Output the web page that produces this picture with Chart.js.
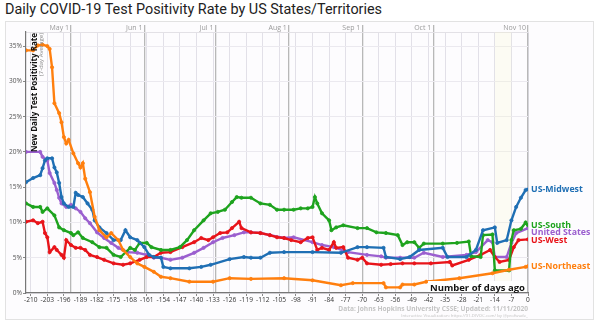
<!DOCTYPE html>
<html>
<head>
<meta charset="utf-8">
<script src="https://cdn.jsdelivr.net/npm/chart.js@4.4.0/dist/chart.umd.min.js"></script>
<style>
  html, body { margin: 0; padding: 0; background: #fff; }
  #title { position: absolute; left: 5px; top: 1px; font: 14.4px Roboto, sans-serif; color: #222; white-space: nowrap; }
  #frame { position: absolute; left: 5px; top: 21px; width: 587px; height: 297px; border: 1px solid #e2e2e2; background: #fdfcfe; }
  #wrap { position: absolute; left: 0; top: 0; width: 600px; height: 322px; }
</style>
</head>
<body>
<div id="title">Daily COVID-19 Test Positivity Rate by US States/Territories</div>
<div id="frame"></div>
<div id="wrap"><canvas id="chart" width="600" height="322"></canvas></div>
<script>
// days ago -> 7-day avg positivity (%)
const northeast = [[-212, 34.4], [-209, 34.4], [-207, 35.1], [-205, 35.2], [-203, 35.0], [-202, 34.6], [-201, 32.0],
  [-200, 26.9], [-198, 25.5], [-197, 24.2], [-196, 22.1], [-195, 21.2], [-194, 21.7], [-192, 19.8], [-190, 18.4],
  [-189, 17.8], [-188, 18.4], [-187, 16.2], [-185, 14.3], [-183, 10.8], [-181, 8.9], [-178, 7.9], [-176, 8.5],
  [-173, 7.5], [-171, 6.1], [-168, 5.1], [-165, 4.2], [-162, 3.7], [-158, 3.0], [-155, 2.3], [-151, 2.1],
  [-143, 1.6], [-133, 1.6], [-126, 2.1], [-117, 2.0], [-103, 2.1], [-91, 1.8], [-79, 1.1], [-74, 1.4],
  [-61, 1.4], [-60, 0.8], [-54, 0.8], [-53, 1.2], [-48, 1.2], [-43, 1.6], [-29, 2.1], [-15, 2.8], [-8, 3.3],
  [-1, 3.7], [0, 3.8]];
const midwest = [[-212, 15.7], [-209, 16.3], [-206, 16.7], [-205, 17.7], [-204, 18.8], [-203, 19.1], [-201, 19.1],
  [-200, 17.8], [-199, 17.1], [-198, 15.6], [-197, 13.6], [-196, 12.7], [-194, 12.2], [-192, 12.2], [-191, 14.2],
  [-190, 13.9], [-188, 13.6], [-186, 12.7], [-184, 11.8], [-183, 10.3], [-181, 9.3], [-178, 8.5], [-175, 7.5],
  [-172, 7.5], [-170, 8.9], [-168, 7.9], [-165, 7.5], [-162, 6.5], [-160, 5.4], [-158, 5.1], [-155, 5.0],
  [-154, 3.7], [-151, 3.5], [-143, 3.5], [-138, 3.7], [-134, 4.0], [-126, 4.8], [-120, 5.1], [-117, 5.0],
  [-113, 5.0], [-109, 5.7], [-103, 5.8], [-91, 5.8], [-79, 5.7], [-72, 6.5], [-68, 6.5], [-61, 6.4], [-60, 5.1],
  [-54, 4.8], [-50, 5.1], [-46, 6.1], [-36, 6.4], [-34, 5.1], [-26, 5.1], [-22, 6.1], [-19, 8.9], [-14, 9.3],
  [-13, 7.1], [-9, 7.5], [-7, 10.3], [-5, 12.2], [-3, 13.5], [-1, 14.6], [0, 14.7]];
const south = [[-212, 12.7], [-209, 12.2], [-206, 12.2], [-205, 11.5], [-203, 12.0], [-200, 11.0], [-198, 9.3],
  [-196, 8.9], [-193, 8.5], [-192, 8.2], [-190, 8.6], [-188, 7.8], [-184, 7.2], [-181, 6.5], [-178, 6.4],
  [-175, 5.4], [-172, 5.1], [-168, 6.4], [-166, 6.1], [-164, 7.1], [-161, 7.1], [-159, 6.5], [-155, 6.1],
  [-151, 6.1], [-147, 6.5], [-144, 7.5], [-141, 8.9], [-137, 10.3], [-134, 11.3], [-131, 11.5], [-128, 11.8],
  [-125, 12.9], [-123, 13.6], [-121, 13.5], [-117, 13.5], [-113, 12.7], [-109, 12.5], [-106, 11.8], [-103, 11.8],
  [-99, 11.8], [-96, 12.0], [-93, 12.0], [-91, 12.2], [-90, 13.6], [-89, 12.7], [-87, 11.3], [-84, 10.3],
  [-83, 8.9], [-81, 9.3], [-78, 9.6], [-72, 9.2], [-68, 9.2], [-64, 8.6], [-60, 8.5], [-55, 8.2], [-53, 6.8],
  [-51, 7.2], [-48, 7.2], [-46, 6.4], [-44, 7.0], [-36, 7.0], [-30, 7.1], [-25, 7.3], [-24, 5.2], [-20, 5.1],
  [-19, 8.2], [-15, 8.3], [-14, 3.2], [-8, 3.2], [-7, 7.5], [-6, 8.9], [-3, 9.1], [-1, 10.0], [0, 9.6]];
const west = [[-212, 10.1], [-209, 10.3], [-207, 9.9], [-205, 10.1], [-204, 8.5], [-203, 7.9], [-202, 5.8],
  [-200, 6.5], [-199, 6.1], [-197, 5.4], [-196, 5.0], [-195, 7.5], [-193, 6.8], [-191, 6.4], [-189, 6.4],
  [-187, 6.1], [-185, 5.4], [-182, 5.1], [-179, 4.7], [-175, 4.2], [-171, 4.0], [-168, 4.2], [-164, 4.7],
  [-161, 5.1], [-158, 5.1], [-155, 5.7], [-151, 5.8], [-146, 6.5], [-141, 7.2], [-138, 7.8], [-135, 7.5],
  [-133, 7.9], [-130, 8.5], [-127, 8.6], [-125, 9.2], [-122, 10.1], [-121, 9.2], [-117, 8.6], [-113, 8.5],
  [-109, 8.2], [-106, 7.9], [-103, 7.8], [-100, 7.5], [-96, 7.2], [-93, 7.8], [-91, 7.9], [-89, 6.1], [-87, 6.4],
  [-84, 6.1], [-82, 7.2], [-81, 6.4], [-78, 6.5], [-76, 5.0], [-72, 4.7], [-70, 5.0], [-68, 4.2], [-62, 4.0],
  [-58, 4.1], [-53, 4.2], [-48, 4.2], [-41, 4.2], [-33, 4.4], [-32, 3.9], [-25, 4.7], [-20, 5.4], [-16, 6.1],
  [-14, 5.1], [-12, 4.4], [-8, 4.7], [-6, 6.5], [-4, 7.5], [0, 7.6]];
const usa = [[-212, 20.0], [-206, 20.0], [-205, 19.3], [-203, 18.8], [-202, 17.0], [-200, 15.6], [-199, 14.6],
  [-198, 13.5], [-197, 12.7], [-195, 12.2], [-193, 12.5], [-191, 12.0], [-189, 11.5], [-187, 10.6], [-185, 9.9],
  [-182, 8.6], [-179, 7.8], [-176, 7.1], [-173, 6.4], [-169, 5.8], [-165, 5.7], [-161, 5.4], [-158, 5.0],
  [-155, 5.0], [-151, 4.7], [-146, 5.0], [-141, 5.7], [-137, 6.4], [-133, 7.2], [-129, 7.8], [-124, 8.2],
  [-120, 8.6], [-117, 8.6], [-113, 8.5], [-109, 8.2], [-103, 7.8], [-99, 7.9], [-91, 7.2], [-87, 6.8], [-82, 6.5],
  [-76, 5.8], [-68, 5.4], [-62, 5.2], [-60, 5.0], [-54, 5.0], [-48, 5.0], [-44, 5.7], [-36, 5.1], [-26, 5.4],
  [-22, 5.8], [-17, 7.5], [-15, 7.2], [-14, 5.1], [-9, 5.1], [-7, 7.1], [-5, 8.5], [0, 9.2]];

const seriesNames = ["US-Northeast", "US-Midwest", "US-South", "US-West", "United States"];
const seriesData = [northeast, midwest, south, west, usa];
const seriesColors = ["#ff7f0e", "#1f6fb4", "#1ea31e", "#e8141a", "#9b5fcf"];

const xTicks = [-210, -203, -196, -189, -182, -175, -168, -161, -154, -147, -140, -133, -126, -119, -112,
  -105, -98, -91, -84, -77, -70, -63, -56, -49, -42, -35, -28, -21, -14, -7, 0];
const monthDays = [-193, -162, -132, -101, -70, -40, 0];
const monthLabels = ["May 1", "Jun 1", "Jul 1", "Aug 1", "Sep 1", "Oct 1", "Nov 10"];
const yTicks = [0, 5, 10, 15, 20, 25, 30, 35];

const FONT = '"Open Sans", sans-serif';

var overlay = {
  id: "overlay",
  beforeDatasetsDraw: function (chart) {
    const ctx = chart.ctx, a = chart.chartArea, x = chart.scales.x;
    ctx.save();
    ctx.fillStyle = "rgba(250, 250, 205, 0.22)";
    const x0 = x.getPixelForValue(-14), x1 = x.getPixelForValue(-7);
    ctx.fillRect(x0, a.top, x1 - x0, a.bottom - a.top);
    ctx.restore();
  },
  afterDraw: function (chart) {
    const ctx = chart.ctx, a = chart.chartArea, x = chart.scales.x, y = chart.scales.y;
    ctx.save();

    // month labels along the top
    ctx.font = "7px " + FONT;
    ctx.fillStyle = "#9a9a9a";
    ctx.textAlign = "right";
    ctx.textBaseline = "alphabetic";
    monthDays.forEach(function (d, i) {
      ctx.fillText(monthLabels[i], x.getPixelForValue(d) - 2, 30);
    });

    // y title, rotated, inside the plot
    ctx.save();
    ctx.translate(36.5, 33);
    ctx.rotate(-Math.PI / 2);
    ctx.textAlign = "right";
    ctx.fillStyle = "#111";
    ctx.font = "bold 8px " + FONT;
    ctx.fillText("New Daily Test Positivity Rate", 0, 0);
    ctx.fillStyle = "#888";
    ctx.font = "6px " + FONT;
    ctx.fillText("(7-day Average)", 0, 6);
    ctx.restore();

    // x title box
    ctx.font = "bold 9.5px " + FONT;
    const t = "Number of days ago";
    const w = ctx.measureText(t).width;
    ctx.fillStyle = "#fff";
    ctx.fillRect(a.right - w - 5, a.bottom - 12, w + 4, 11);
    ctx.fillStyle = "#111";
    ctx.textAlign = "right";
    ctx.fillText(t, a.right - 3, a.bottom - 2.5);

    // source
    ctx.fillStyle = "#c4c4c4";
    ctx.font = "bold 6.6px " + FONT;
    ctx.fillText("Data: Johns Hopkins University CSSE; Updated: 11/11/2020", a.right, 311);
    ctx.font = "4.3px " + FONT;
    ctx.fillText("Interactive Visualization: https://91-DIVOC.com/ by @profwade_", a.right, 317);

    // end labels
    let labels = chart.data.datasets.map(function (ds, i) {
      const last = ds.data[ds.data.length - 1];
      return { text: ds.label, color: ds.borderColor, y: y.getPixelForValue(last.y) };
    });
    labels.sort(function (p, q) { return p.y - q.y; });
    for (let i = 1; i < labels.length; i++) {
      if (labels[i].y - labels[i - 1].y < 7.5) labels[i].y = labels[i - 1].y + 7.5;
    }
    ctx.font = "bold 8.8px " + FONT;
    ctx.textAlign = "left";
    ctx.textBaseline = "middle";
    labels.forEach(function (l) {
      ctx.fillStyle = l.color;
      ctx.fillText(l.text, a.right + 3, l.y);
    });
    ctx.restore();
  }
};

var datasets = seriesData.map(function (s, i) {
  return {
    label: seriesNames[i],
    data: s.map(function (p) { return { x: p[0], y: p[1] }; }),
    borderColor: seriesColors[i],
    backgroundColor: seriesColors[i],
    pointBackgroundColor: seriesColors[i],
    borderWidth: 2.4,
    pointRadius: 1.6,
    pointBorderWidth: 0.8,
    tension: 0,
  };
});

new Chart(document.getElementById("chart"), {
  type: "line",
  data: { datasets: datasets },
  plugins: [overlay],
  options: {
    responsive: false,
    animation: false,
    layout: { padding: { left: 0, right: 72, top: 0, bottom: 0 } },
    plugins: { legend: { display: false }, tooltip: { enabled: false } },
    scales: {
      x: {
        type: "linear", min: -212, max: 0,
        afterBuildTicks: function (s) { s.ticks = xTicks.map(function (v) { return { value: v }; }); },
        afterFit: function (s) { s.height = 29; },
        ticks: { font: { size: 6.6, family: FONT }, color: "#333", padding: 0, maxRotation: 0, autoSkip: false,
          callback: function (v) { return String(v); } },
        grid: { color: "#e2e0e8", tickLength: 3, tickColor: "#888" },
        border: { color: "#777", width: 1.2 },
      },
      x2: {
        type: "linear", position: "top", min: -212, max: 0,
        afterBuildTicks: function (s) { s.ticks = monthDays.map(function (v) { return { value: v }; }); },
        afterFit: function (s) { s.height = 32; },
        ticks: { display: false },
        grid: { color: "#b8b8b8", lineWidth: 1.3, tickLength: 7 },
        border: { color: "#e3e1e6" },
      },
      y: {
        min: 0, max: 37,
        afterBuildTicks: function (s) { s.ticks = yTicks.map(function (v) { return { value: v }; }); },
        afterFit: function (s) { s.width = 26; },
        ticks: { font: { size: 6.6, family: FONT }, color: "#555", padding: 1,
          callback: function (v) { return v + "%"; } },
        grid: { color: "#ebe9ef", tickLength: 3, tickColor: "#888" },
        border: { color: "#777", width: 1.2 },
      },
    },
  },
});
</script>
</body>
</html>
